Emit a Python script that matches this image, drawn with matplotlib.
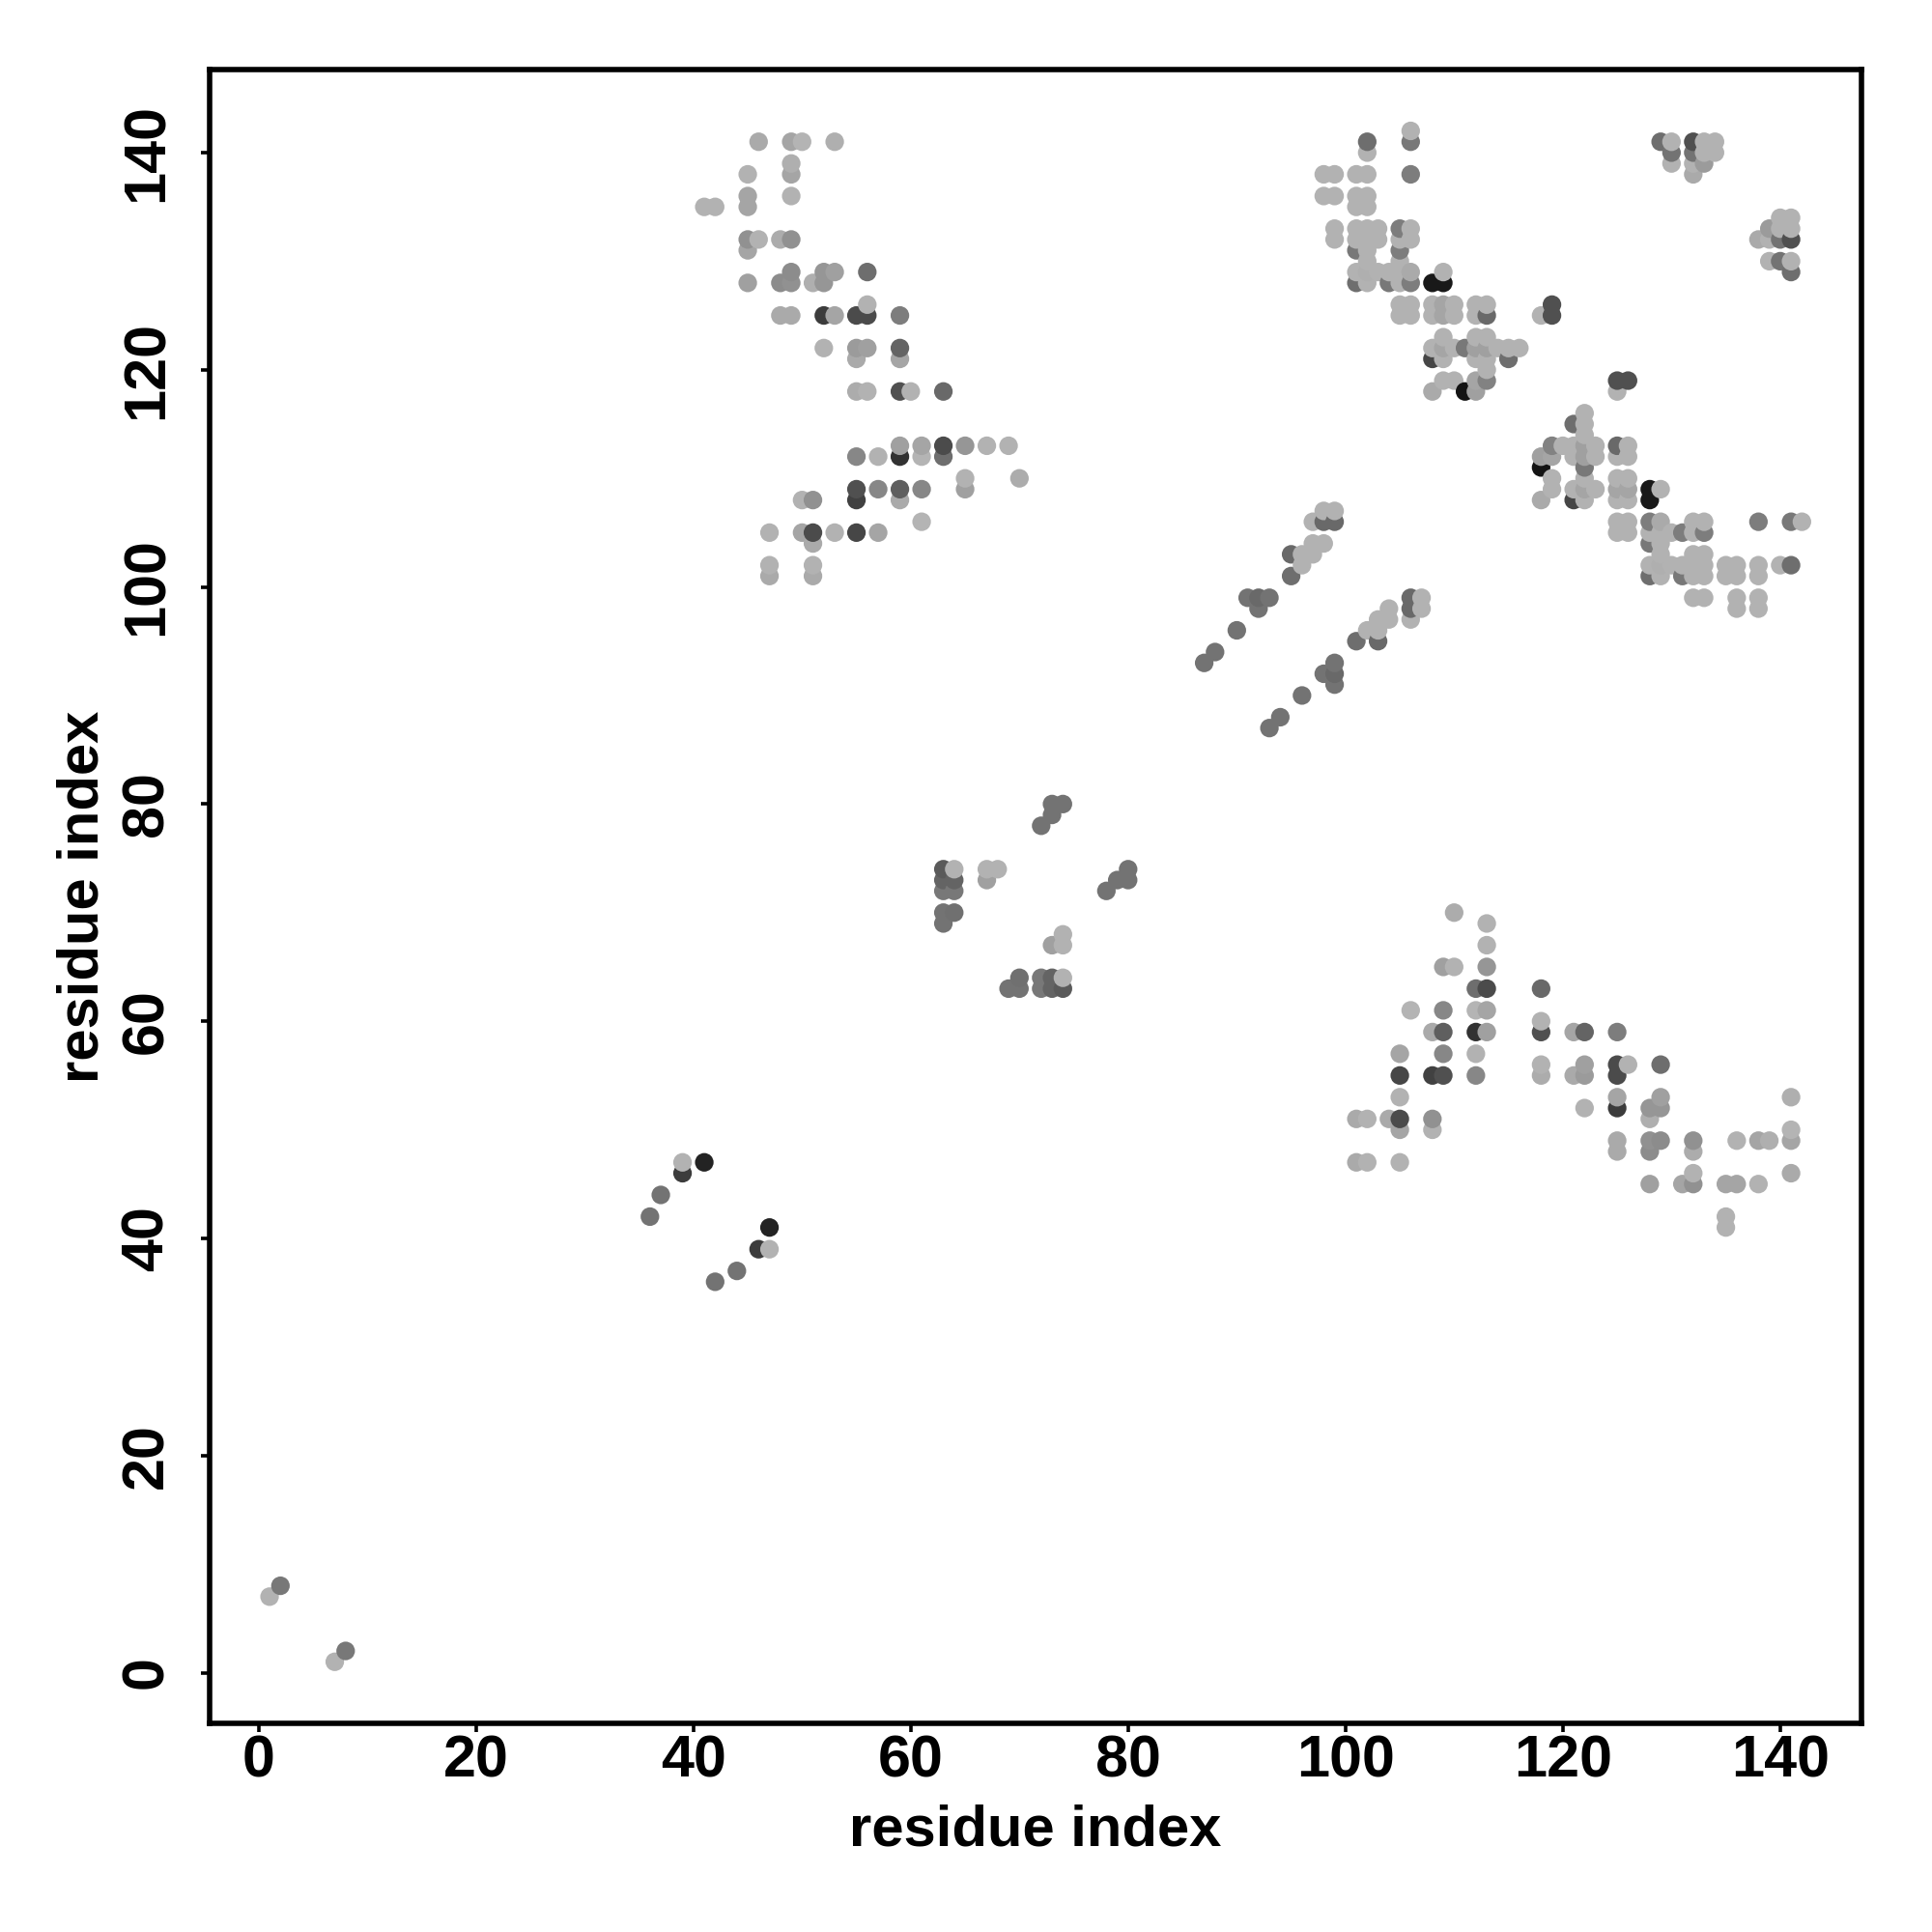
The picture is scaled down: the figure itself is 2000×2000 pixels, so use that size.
import numpy as np
import matplotlib
matplotlib.use('Agg')
import matplotlib.pyplot as plt

plt.rcParams['font.family'] = ['Liberation Sans', 'DejaVu Sans']

# contacts, one line per residue i (map is symmetric, mirrored below)
res_i = [1, 2, 36, 37, 39, 39, 41,
         41, 42,
         45, 45, 45, 45, 45, 45,
         46, 46,
         47, 47, 47,
         48, 48, 48,
         49, 49, 49, 49, 49, 49, 49, 49,
         50, 50, 50,
         51, 51, 51, 51, 51, 51,
         52, 52, 52, 52,
         53, 53, 53, 53,
         55, 55, 55, 55, 55, 55, 55, 55,
         56, 56, 56, 56, 56,
         57, 57, 57,
         59, 59, 59, 59, 59, 59, 59, 59,
         60,
         61, 61, 61, 61,
         63, 63, 63, 63, 63, 63, 63, 63,
         64, 64, 64, 64,
         65, 65, 65,
         67, 67, 67,
         68, 69, 70,
         72, 73, 73, 74,
         87, 88, 90, 91, 92, 92, 93,
         95, 95, 96, 96,
         97, 97, 97,
         98, 98, 98, 98, 98,
         99, 99, 99, 99, 99, 99,
         101, 101, 101, 101, 101, 101, 101, 101,
         102, 102, 102, 102, 102, 102, 102, 102, 102, 102, 102,
         103, 103, 103,
         104, 104,
         105, 105, 105, 105, 105, 105, 105, 105,
         106, 106, 106, 106, 106, 106, 106, 106, 106,
         108, 108, 108, 108, 108, 108,
         109, 109, 109, 109, 109, 109, 109, 109,
         110, 110, 110, 110,
         111, 111,
         112, 112, 112, 112, 112, 112, 112,
         113, 113, 113, 113, 113, 113, 113,
         114, 115, 115, 116,
         118, 119, 119,
         129, 130, 130, 130,
         132, 132, 132, 132,
         133, 133, 133,
         134, 134]
res_j = [7, 8, 42, 44, 46, 47, 47,
         135, 135,
         128, 131, 132, 135, 136, 138,
         132, 141,
         101, 102, 105,
         125, 128, 132,
         125, 128, 129, 132, 136, 138, 139, 141,
         105, 108, 141,
         101, 102, 104, 105, 108, 128,
         122, 125, 128, 129,
         105, 125, 129, 141,
         105, 108, 109, 112, 118, 121, 122, 125,
         118, 122, 125, 126, 129,
         105, 109, 112,
         108, 109, 112, 113, 118, 121, 122, 125,
         118,
         106, 109, 112, 113,
         69, 70, 72, 73, 74, 112, 113, 118,
         70, 72, 73, 74,
         109, 110, 113,
         73, 74, 113,
         74, 113, 110,
         78, 79, 80, 80,
         93, 94, 96, 99, 98, 99, 99,
         101, 103, 102, 103,
         103, 104, 106,
         104, 106, 107, 136, 138,
         106, 107, 132, 133, 136, 138,
         128, 129, 131, 132, 133, 135, 136, 138,
         128, 129, 130, 131, 132, 133, 135, 136, 138, 140, 141,
         129, 132, 133,
         128, 129,
         125, 126, 128, 129, 130, 131, 132, 133,
         125, 126, 128, 129, 132, 133, 138, 141, 142,
         118, 121, 122, 125, 126, 128,
         119, 121, 122, 123, 125, 126, 128, 129,
         119, 122, 125, 126,
         118, 122,
         118, 119, 121, 122, 123, 125, 126,
         119, 120, 121, 122, 123, 125, 126,
         122, 121, 122, 122,
         125, 125, 126,
         141, 139, 140, 141,
         138, 139, 140, 141,
         139, 140, 141,
         140, 141]
shade = [178, 120, 115, 115, 60, 178, 35,
         178, 178,
         160, 165, 145, 165, 165, 178,
         178, 170,
         170, 178, 178,
         170, 140, 172,
         170, 145, 140, 145, 178, 165, 175, 165,
         165, 178, 180,
         170, 178, 170, 75, 145, 175,
         178, 60, 150, 150,
         178, 165, 160, 175,
         70, 65, 80, 135, 172, 170, 155, 75,
         178, 160, 75, 178, 110,
         165, 135, 178,
         170, 95, 50, 160, 80, 165, 100, 125,
         178,
         180, 135, 180, 165,
         115, 115, 120, 100, 90, 110, 75, 105,
         112, 120, 100, 178,
         160, 178, 150,
         160, 178, 178,
         178, 178, 172,
         115, 115, 115, 115,
         115, 115, 115, 115, 115, 105, 115,
         110, 105, 178, 178,
         178, 178, 178,
         178, 105, 178, 178, 178,
         105, 178, 178, 178, 178, 178,
         110, 178, 120, 178, 178, 178, 178, 178,
         178, 175, 178, 178, 178, 178, 178, 178, 178, 178, 110,
         178, 178, 178,
         120, 178,
         178, 178, 178, 178, 178, 125, 178, 125,
         178, 178, 125, 170, 178, 178, 125, 120, 178,
         170, 70, 178, 178, 178, 25,
         178, 178, 165, 178, 165, 165, 25, 178,
         178, 178, 178, 178,
         20, 120,
         160, 165, 178, 160, 178, 178, 178,
         130, 178, 178, 160, 178, 105, 178,
         178, 110, 178, 178,
         178, 80, 80,
         110, 178, 115, 178,
         170, 178, 115, 80,
         155, 178, 178,
         178, 178]
x_ticks = [0, 20, 40, 60, 80, 100, 120, 140]
y_ticks = [0, 20, 40, 60, 80, 100, 120, 140]

# both halves of the map, later residues drawn on top
x = np.array(res_i + res_j)
y = np.array(res_j + res_i)
g = np.array(shade + shade) / 255.0
order = np.lexsort((y, x))
colors = [(v, v, v) for v in g[order]]

fig = plt.figure(figsize=(10, 10), dpi=200)
ax = fig.add_axes([216.5 / 2000, 1 - 1784 / 2000, (1927 - 216.5) / 2000, (1784 - 72) / 2000])
ax.scatter(x[order], y[order], s=48, c=colors, linewidths=0, zorder=3)

ax.set_xlim(-4.56, 147.48)
ax.set_ylim(-4.67, 147.65)
ax.set_xticks(x_ticks)
ax.set_yticks(y_ticks)
ax.tick_params(axis='both', length=3.2, width=1.3, labelsize=22, pad=1)
ax.tick_params(axis='y', pad=9.5)
for lab in ax.get_xticklabels():
    lab.set_fontweight('bold')
for lab in ax.get_yticklabels():
    lab.set_fontweight('bold')
    lab.set_rotation(90)
    lab.set_va('center')
for sp in ax.spines.values():
    sp.set_linewidth(2.0)

ax.set_xlabel('residue index', fontsize=21.5, fontweight='bold')
ax.set_ylabel('residue index', fontsize=21.5, fontweight='bold')
ax.xaxis.set_label_coords(0.5, -0.049)
ax.yaxis.set_label_coords(-0.0605, 0.5)

fig.savefig('out.png')
